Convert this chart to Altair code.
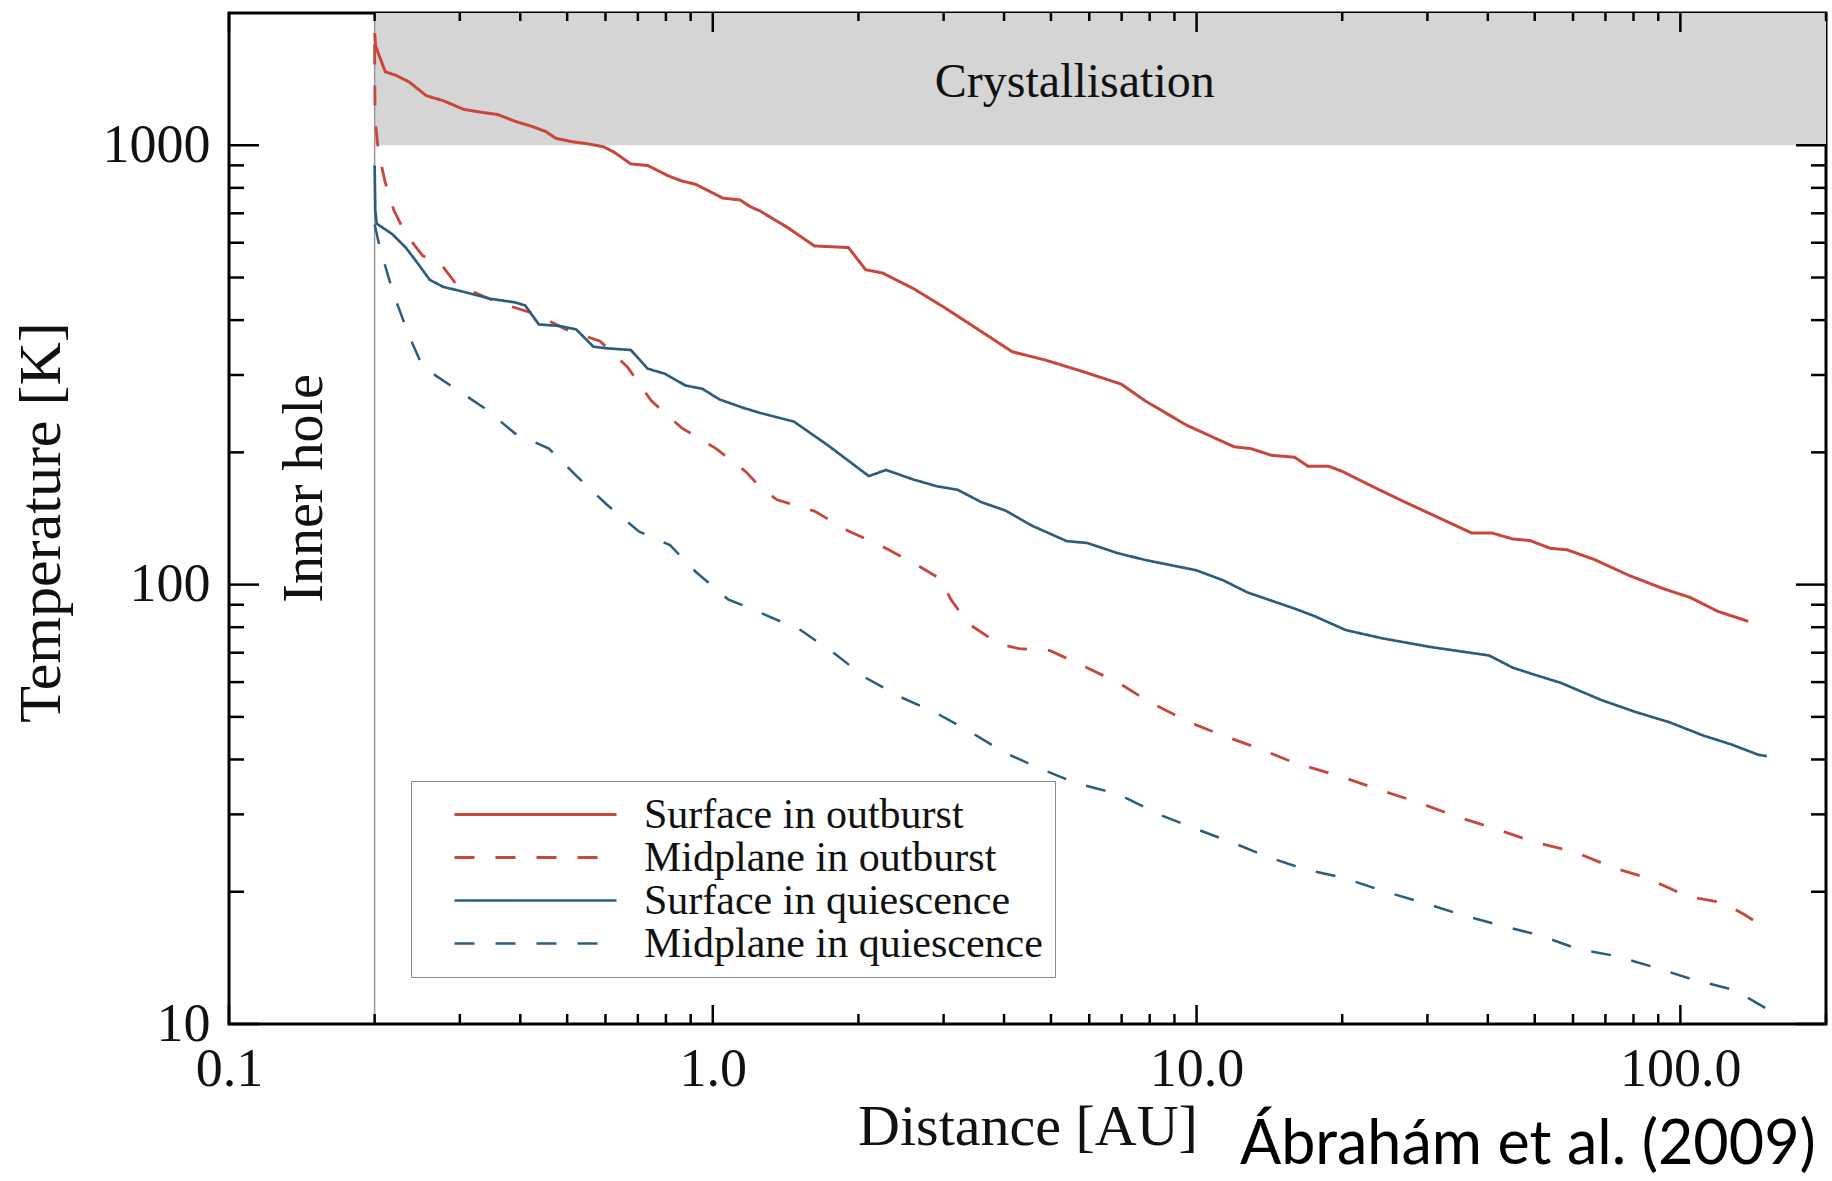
import altair as alt
import pandas as pd

# ---------------- data ----------------
series_names = ["Surface in outburst", "Midplane in outburst",
                "Surface in quiescence", "Midplane in quiescence"]

so_x = [0.2, 0.201, 0.2104, 0.2209, 0.2358, 0.2556, 0.2773, 0.3055, 0.3369, 0.3594,
        0.3899, 0.4228, 0.4512, 0.4739, 0.5137, 0.5483, 0.5946, 0.6245, 0.6769, 0.734,
        0.8092, 0.8638, 0.9215, 0.9835, 1.049, 1.138, 1.195, 1.251, 1.424, 1.622,
        1.907, 2.069, 2.243, 2.597, 3.004, 3.534, 4.157, 4.89, 5.845, 6.986,
        7.83, 9.51, 11.94, 12.95, 14.27, 15.94, 17.0, 18.75, 20.01, 23.16,
        27.0, 32.55, 37.07, 40.87, 45.06, 48.86, 53.85, 58.38, 66.49, 78.23,
        91.99, 104.8, 119.3, 138.1]
so_y = [1800, 1680, 1470, 1444, 1393, 1297, 1263, 1207, 1186, 1175,
        1134, 1104, 1075, 1037, 1018, 1009, 992, 965, 907, 899,
        852, 829, 815, 786, 758, 751, 725, 709, 651, 590,
        585, 521, 512, 472, 428, 381, 339, 324, 305, 286,
        262, 231, 206, 204, 197, 195, 186, 186, 181, 167,
        154, 140, 131, 131, 127, 126, 121, 120, 114, 105,
        98, 93.5, 87, 82.5]

mo_x = [0.2, 0.2004, 0.2036, 0.2104, 0.2191, 0.2319, 0.2515, 0.2729, 0.2957, 0.3594,
        0.4298, 0.4974, 0.585, 0.6661, 0.7463, 0.8638, 1.016, 1.175, 1.251, 1.357,
        1.622, 1.907, 2.28, 2.638, 2.956, 3.104, 3.366, 3.895, 4.295, 4.97,
        5.94, 6.986, 7.956, 9.67, 11.37, 13.59, 15.94, 20.01, 23.53, 28.59,
        34.2, 40.87, 49.65, 60.35, 72.1, 84.8, 103.1, 123.2, 135.8, 150.9]
mo_y = [1696, 1154, 965, 822, 712, 628, 560, 540, 481, 439,
        413, 381, 358, 313, 262, 227, 204, 180, 167, 156,
        147, 132.5, 121, 111, 103, 92.6, 81.7, 73.4, 71.5, 70.8,
        64.7, 59.3, 54.2, 48.6, 45.3, 42.2, 39.3, 36.5, 34.3, 32.0,
        29.75, 27.95, 26.0, 24.66, 22.75, 21.56, 19.54, 18.86, 17.72, 16.49]

sq_x = [0.2, 0.2006, 0.202, 0.2174, 0.2319, 0.2436, 0.26, 0.2773, 0.3055, 0.3479,
        0.3899, 0.4094, 0.4369, 0.4811, 0.5219, 0.5664, 0.6043, 0.6769, 0.734, 0.7962,
        0.8779, 0.9522, 1.032, 1.157, 1.251, 1.471, 1.73, 2.102, 2.28, 2.597,
        2.908, 3.206, 3.593, 4.023, 4.581, 5.39, 5.94, 6.874, 7.83, 9.99,
        11.37, 12.74, 15.94, 17.57, 20.34, 24.31, 30.51, 34.2, 40.22, 45.06,
        49.65, 56.53, 68.71, 80.8, 95.0, 111.8, 127.3, 144.9, 150.9]
sq_y = [899, 712, 663, 628, 585, 545, 494, 476, 464, 447,
        439, 432, 391, 388, 381, 348, 345, 342, 310, 302,
        284, 279, 264, 252.5, 246, 235, 207.5, 176.6, 182.4, 173.5,
        167.4, 164.4, 154, 147.5, 136, 125.6, 124.4, 117.9, 113.8, 107.8,
        102.2, 96, 88.2, 84.7, 78.8, 75.4, 72.1, 70.8, 69, 64.7,
        62.5, 59.8, 54.6, 51.3, 48.6, 45.3, 43.3, 41, 40.7]

mq_x = [0.2, 0.2046, 0.218, 0.235, 0.2515, 0.2911, 0.3369, 0.3899, 0.4585, 0.5219,
        0.6043, 0.7047, 0.8159, 0.9215, 1.075, 1.234, 1.519, 1.788, 2.069, 2.434,
        2.908, 3.42, 4.023, 4.81, 5.656, 6.874, 8.36, 9.83, 11.74, 14.04,
        16.73, 20.01, 24.31, 29.52, 35.3, 42.22, 51.29, 61.33, 73.3, 89.1,
        106.5, 129.4, 150.9]
mq_y = [660, 590, 464, 371, 313, 281, 252.5, 221, 204, 177,
        152, 132, 123, 107, 92.6, 87, 78.8, 69.6, 61.4, 55.6,
        50.9, 46.1, 41.4, 37.9, 35.3, 33.4, 30, 27.95, 26, 24,
        22.5, 21.56, 20.07, 18.86, 17.72, 16.79, 15.91, 14.82, 14.29, 13.43,
        12.61, 11.95, 10.83]

# crystallisation band and inner-hole edge
band_x = [0.2, 200]
band_y = [1000, 2000]
hole_x = [0.2]
hole_y = [10, 2000]

# tick values
x_major = [0.1, 1, 10, 100]
x_minor = [0.2, 0.3, 0.4, 0.5, 0.6, 0.7, 0.8, 0.9,
           2, 3, 4, 5, 6, 7, 8, 9,
           20, 30, 40, 50, 60, 70, 80, 90, 200]
y_major = [10, 100, 1000]
y_minor = [20, 30, 40, 50, 60, 70, 80, 90,
           200, 300, 400, 500, 600, 700, 800, 900]

# annotation texts (placed in data coordinates)
crys_text = ["Crystallisation"]
crys_x = [5.6]
crys_y = [1286]
hole_text = ["Inner hole"]
hole_tx = [0.1556]
hole_ty = [165.6]
credit_text = ["Ábrahám et al. (2009)"]
credit_x = [48.4]
credit_y = [4.79]

# ---------------- build tables ----------------
rows = []
for name, xs, ys in zip(series_names, [so_x, mo_x, sq_x, mq_x], [so_y, mo_y, sq_y, mq_y]):
    for xv, yv in zip(xs, ys):
        rows.append({"x": xv, "y": yv, "series": name})
lines_df = pd.DataFrame(rows)

W, H = 1597, 1011
SERIF = "Liberation Serif"
RED = "#c8473b"
BLUE = "#2c5d7c"

xscale = alt.Scale(type="log", domain=[0.1, 200], nice=False)
yscale = alt.Scale(type="log", domain=[10, 2000], nice=False)

XAXIS = alt.Axis(values=x_major, format=".1f", ticks=False, domain=False, grid=False,
                 labelFont=SERIF, labelFontSize=54, labelColor="#111",
                 labelPadding=18, labelFlush=False, labelOverlap=False,
                 title="Distance [AU]", titleFont=SERIF, titleFontSize=58,
                 titleFontWeight="normal", titleColor="#111",
                 titleY=120, titleBaseline="alphabetic")
YAXIS = alt.Axis(values=y_major, format="d", ticks=False, domain=False, grid=False,
                 labelFont=SERIF, labelFontSize=54, labelColor="#111",
                 labelPadding=19, labelOverlap=False,
                 title="Temperature [K]", titleFont=SERIF, titleFontSize=60,
                 titleFontWeight="normal", titleColor="#111",
                 titleX=-170, titleY=509, titleBaseline="alphabetic")


def X(field):
    return alt.X(field, scale=xscale, axis=XAXIS, title="Distance [AU]")


def Y(field):
    return alt.Y(field, scale=yscale, axis=YAXIS, title="Temperature [K]")


band = alt.Chart(pd.DataFrame({"x": [band_x[0]], "x2": [band_x[1]],
                               "y": [band_y[0]], "y2": [band_y[1]]})).mark_rect(
    color="#d5d5d5").encode(x=X("x:Q"), x2="x2:Q", y=Y("y:Q"), y2="y2:Q")

hole = alt.Chart(pd.DataFrame({"x": hole_x, "y": [hole_y[0]], "y2": [hole_y[1]]})).mark_rule(
    color="#9a9a9a", strokeWidth=1.5).encode(x=X("x:Q"), y=Y("y:Q"), y2="y2:Q")

lines = alt.Chart(lines_df).mark_line().encode(
    x=X("x:Q"),
    y=Y("y:Q"),
    color=alt.Color("series:N", scale=alt.Scale(domain=series_names,
                                                range=[RED, RED, BLUE, BLUE]),
                    legend=alt.Legend(title=None, orient="none", legendX=182, legendY=768,
                                      fillColor="white", strokeColor="#8c8c8c",
                                      padding=12, symbolOffset=30, labelOffset=26,
                                      clipHeight=43, symbolType="stroke", symbolSize=26244,
                                      labelFont=SERIF, labelFontSize=42, labelColor="#111",
                                      labelLimit=800, rowPadding=0)),
    strokeDash=alt.StrokeDash("series:N", scale=alt.Scale(domain=series_names,
                                                         range=[[1, 0], [20, 21], [1, 0], [20, 21]])),
    strokeWidth=alt.StrokeWidth("series:N", scale=alt.Scale(domain=series_names,
                                                           range=[3, 2.5, 2, 2.5])),
    order=alt.Order("x:Q"),
)


def tick_layer(vals, channel, length, side):
    df = pd.DataFrame({"v": vals})
    base = alt.Chart(df).mark_rule(color="black", strokeWidth=2.5)
    if channel == "y":
        y = Y("v:Q")
        if side == "left":
            return base.encode(y=y, x=alt.value(0), x2=alt.value(length))
        return base.encode(y=y, x=alt.value(W), x2=alt.value(W - length))
    x = X("v:Q")
    if side == "bottom":
        return base.encode(x=x, y=alt.value(H), y2=alt.value(H - length))
    return base.encode(x=x, y=alt.value(0), y2=alt.value(length))


ticks = [
    tick_layer(y_major, "y", 30, "left"), tick_layer(y_minor, "y", 15, "left"),
    tick_layer(y_major, "y", 30, "right"), tick_layer(y_minor, "y", 15, "right"),
    tick_layer(x_major, "x", 19, "bottom"), tick_layer(x_minor, "x", 10, "bottom"),
    tick_layer(x_major, "x", 19, "top"), tick_layer(x_minor, "x", 8, "top"),
]

crys = alt.Chart(pd.DataFrame({"t": crys_text, "x": crys_x, "y": crys_y})).mark_text(
    font=SERIF, fontSize=48, color="#111", align="center", baseline="alphabetic").encode(
    x=X("x:Q"), y=Y("y:Q"), text="t:N")

holet = alt.Chart(pd.DataFrame({"t": hole_text, "x": hole_tx, "y": hole_ty})).mark_text(
    font=SERIF, fontSize=56, color="#111", align="center", baseline="alphabetic", angle=270).encode(
    x=X("x:Q"), y=Y("y:Q"), text="t:N")

credit = alt.Chart(pd.DataFrame({"t": credit_text, "x": credit_x, "y": credit_y})).mark_text(
    font="Lato", fontSize=61, color="black", align="center", baseline="alphabetic").encode(
    x=X("x:Q"), y=Y("y:Q"), text="t:N")

chart = alt.layer(band, hole, lines, *ticks, crys, holet, credit).properties(
    width=W, height=H,
    autosize=alt.AutoSizeParams(type="none"),
    padding={"left": 229, "top": 13, "right": 6, "bottom": 157},
    background="white",
).configure_view(stroke="black", strokeWidth=3)

chart.save("out.html", embed_options={"renderer": "svg", "actions": False})
